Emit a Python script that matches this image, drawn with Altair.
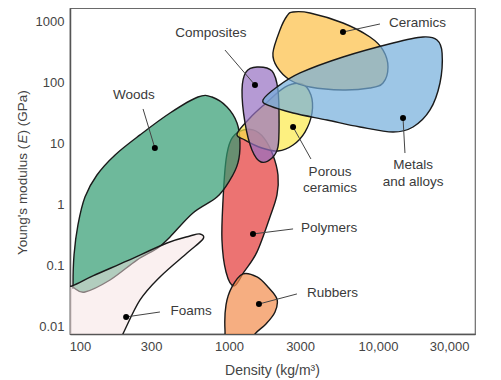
import altair as alt
import pandas as pd

# ---- material family envelopes (density kg/m^3, Young's modulus GPa) ----
woods_density = [89.8, 91.2, 96.9, 108, 130, 172, 253, 402, 619, 769, 970, 1132, 1185, 1148, 1016, 830, 573, 402, 333, 241, 159, 108, 91.2]
woods_modulus = [0.0489, 0.151, 0.470, 1.35, 3.10, 6.61, 14.1, 32.2, 58.9, 58.9, 40.4, 22.1, 10.4, 4.89, 2.57, 1.35, 0.74, 0.299, 0.197, 0.125, 0.0589, 0.0375, 0.0436]

foams_density = [67.9, 88.4, 122, 207, 384, 547, 638, 669, 523, 344, 253, 194, 172, 67.9]
foams_modulus = [0.042, 0.047, 0.0686, 0.121, 0.238, 0.310, 0.335, 0.277, 0.163, 0.0661, 0.0277, 0.00767, 0.0042, 0.0042]

polymers_density = [1031, 1185, 1449, 1718, 1972, 2132, 2099, 1884, 1542, 1261, 1081, 955, 897, 912, 955]
polymers_modulus = [11.6, 16.3, 17.0, 12.5, 6.61, 3.10, 1.46, 0.635, 0.170, 0.0798, 0.047, 0.0798, 0.267, 1.21, 5.47]

rubbers_density = [1047, 1242, 1542, 1827, 2099, 2036, 1771, 1494, 1383, 985, 940, 955]
rubbers_modulus = [0.0453, 0.0740, 0.0661, 0.0453, 0.0288, 0.0176, 0.0112, 0.00767, 0.00507, 0.00507, 0.00893, 0.0230]

composites_density = [1542, 1945, 2132, 2168, 2132, 1945, 1640, 1426, 1281, 1223, 1300]
composites_modulus = [183, 157, 76.8, 22.1, 8.93, 5.89, 5.07, 7.98, 22.1, 76.8, 151]

porous_density = [1132, 1383, 1745, 2376, 3090, 3548, 3606, 3236, 2692, 2132, 1663, 1281]
porous_modulus = [14.6, 26.7, 45.3, 85.9, 96.4, 63.5, 32.2, 15.7, 9.64, 7.67, 8.59, 11.6]

metals_density = [1690, 2099, 2999, 5821, 12620, 20040, 24890, 26920, 26060, 22340, 17180, 12620, 7568, 4550, 2692, 1884]
metals_modulus = [52.6, 85.9, 146, 267, 453, 568, 507, 310, 100, 36.1, 19.0, 15.7, 19.0, 24.7, 32.2, 42.0]

ceramics_density = [2692, 3499, 5821, 8831, 10810, 11670, 10810, 8831, 5821, 3499, 2566, 2099, 1972, 2198, 2449]
ceramics_modulus = [1459, 1406, 963, 568, 347, 183, 100, 82.8, 76.8, 85.9, 112, 183, 310, 739, 1253]

# ---- labels ----
label_text = ["Composites", "Woods", "Foams", "Polymers", "Rubbers", "Ceramics", "Porous", "ceramics", "Metals", "and alloys"]
label_density = [757, 230, 556, 4690, 4950, 18410, 4764, 4764, 17180, 17180]
label_modulus = [661, 63.5, 0.0183, 0.420, 0.0361, 963, 3.47, 1.90, 4.53, 2.38]

# ---- marker dots and leader lines ----
dot_density = [318, 204, 1449, 1589, 1494, 5821, 2692, 14720]
dot_modulus = [8.59, 0.0146, 0.335, 0.0238, 92.7, 685, 19.0, 26.7]
leader_density = [265, 344, 2692, 2857, 940, 10310, 3548, 15170]
leader_modulus = [37.5, 0.0176, 0.405, 0.0348, 347, 928, 5.68, 7.11]

x_ticks = [100, 300, 1000, 3000, 10000, 30000]
y_ticks = [0.01, 0.1, 1, 10, 100, 1000]

# y-axis title pieces (the E is italic)
ytitle_parts = ["Young's modulus (", "E", ")  (GPa)"]

FONT = "Liberation Sans"

xscale = alt.Scale(type="log", domain=[85.7, 44770], nice=False, zero=False)
yscale = alt.Scale(type="log", domain=[0.00767, 1696], nice=False, zero=False)

xaxis = alt.Axis(values=x_ticks, title="Density (kg/m³)",
                 labelExpr="datum.value >= 10000 ? format(datum.value, ',') : format(datum.value, '~g')",
                 titleX=202, titleY=36, titleBaseline="middle", titleAlign="center", titleFontSize=14)
yaxis = alt.Axis(values=y_ticks, title=None, labelExpr="format(datum.value, '~g')")

X = alt.X("density:Q", scale=xscale, axis=xaxis)
Y = alt.Y("modulus:Q", scale=yscale, axis=yaxis)


def shape(dens, mod, color, opacity):
    df = pd.DataFrame({"density": dens, "modulus": mod, "i": list(range(len(dens)))})
    return alt.Chart(df).mark_line(
        interpolate="cardinal-closed", fill=color, fillOpacity=opacity,
        stroke="#1a1a1a", strokeWidth=1.4, clip=True
    ).encode(x=X, y=Y, order=alt.Order("i:Q"))


layers = [
    shape(polymers_density, polymers_modulus, "#e43836", 0.7),
    shape(rubbers_density, rubbers_modulus, "#f28b4c", 0.7),
    shape(woods_density, woods_modulus, "#309b70", 0.7),
    shape(foams_density, foams_modulus, "#f5e1e1", 0.5),
    shape(porous_density, porous_modulus, "#fcea4a", 0.7),
    shape(composites_density, composites_modulus, "#956fc2", 0.7),
    shape(ceramics_density, ceramics_modulus, "#fcbf44", 0.7),
    shape(metals_density, metals_modulus, "#73aedb", 0.7),
]

lead_df = pd.DataFrame({"density": dot_density, "modulus": dot_modulus,
                        "d2": leader_density, "m2": leader_modulus})
leaders = alt.Chart(lead_df).mark_rule(color="#444", strokeWidth=1).encode(
    x=X, y=Y, x2="d2:Q", y2="m2:Q")
dots = alt.Chart(lead_df).mark_point(filled=True, color="black", size=36, opacity=1).encode(x=X, y=Y)

lab_df = pd.DataFrame({"density": label_density, "modulus": label_modulus, "t": label_text})
labels = alt.Chart(lab_df).mark_text(font=FONT, fontSize=13.5, color="#3a3a3a",
                                     align="center", baseline="middle").encode(x=X, y=Y, text="t:N")

# rotated y-axis title built from three text pieces (reads bottom to top)
title_y = [247, 135.6, 126.6]
title_styles = ["normal", "italic", "normal"]
ytitle_layers = []
for part, ypos, style in zip(ytitle_parts, title_y, title_styles):
    ytitle_layers.append(
        alt.Chart(pd.DataFrame({"t": [part]})).mark_text(
            font=FONT, fontSize=13.5, color="#444", angle=270, align="left",
            baseline="middle", fontStyle=style
        ).encode(x=alt.value(-47), y=alt.value(ypos), text="t:N")
    )

chart = alt.layer(*layers, leaders, dots, labels, *ytitle_layers).properties(
    width=405, height=326,
    autosize="none",
    padding={"left": 62, "top": 0, "right": 14, "bottom": 44},
).configure_view(stroke="#6a6a6a", strokeWidth=1.2).configure_axis(
    grid=False, ticks=False, tickSize=0, domain=True, domainColor="#555", domainWidth=1.5,
    labelFont=FONT, labelFontSize=13, labelColor="#444", labelPadding=6,
    titleFont=FONT, titleFontSize=14, titleFontWeight="normal", titleColor="#444",
)

chart.save("out.html", embed_options={"renderer": "svg", "actions": False})
